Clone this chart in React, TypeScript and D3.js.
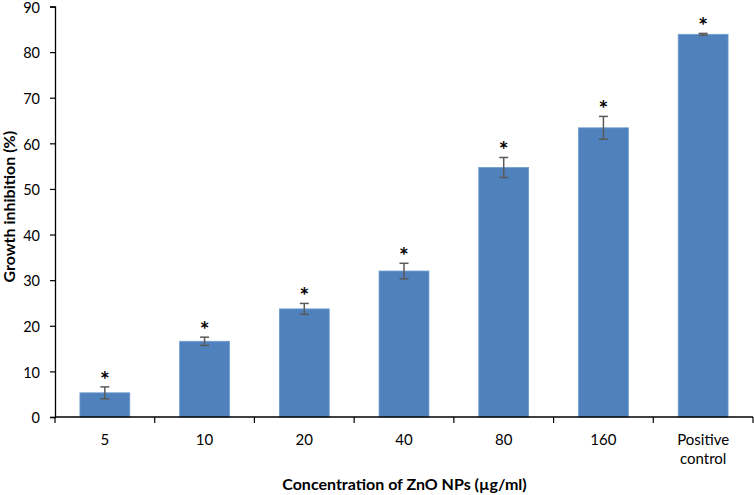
import React, { useEffect, useRef } from "react";
import * as d3 from "d3";

const categories = ["5", "10", "20", "40", "80", "160", "Positive control"];
const values = [5.3, 16.6, 23.7, 32.0, 54.7, 63.4, 83.9];
const errors = [1.3, 0.9, 1.2, 1.7, 2.2, 2.5, 0.2];
const yTicks = [0, 10, 20, 30, 40, 50, 60, 70, 80, 90];

const W = 754;
const H = 495;
const margin = { left: 55, right: 0, top: 6.5, bottom: 78 };

export default function App() {
  const ref = useRef<SVGSVGElement | null>(null);

  useEffect(() => {
    const svg = d3.select(ref.current);
    svg.selectAll("*").remove();
    const font = "Lato, 'Open Sans', sans-serif";

    const x = d3
      .scaleBand<string>()
      .domain(categories)
      .range([margin.left, W - margin.right - 1])
      .paddingInner(0.5)
      .paddingOuter(0.25);
    const y = d3
      .scaleLinear()
      .domain([0, 90])
      .range([H - margin.bottom, margin.top]);

    // bars
    svg
      .append("g")
      .selectAll("rect")
      .data(values)
      .join("rect")
      .attr("x", (_, i) => x(categories[i])!)
      .attr("width", x.bandwidth())
      .attr("y", (d) => y(d))
      .attr("height", (d) => y(0) - y(d))
      .attr("fill", "#4F81BD")
      .attr("stroke", "#6f9bd0")
      .attr("stroke-width", 0.8);

    // error bars
    const eg = svg.append("g").attr("stroke", "#5a5a5a").attr("stroke-width", 1.5);
    values.forEach((v, i) => {
      const cx = x(categories[i])! + x.bandwidth() / 2;
      const top = y(v + errors[i]);
      const bot = y(v - errors[i]);
      eg.append("line").attr("x1", cx).attr("x2", cx).attr("y1", top).attr("y2", bot);
      eg.append("line").attr("x1", cx - 4.5).attr("x2", cx + 4.5).attr("y1", top).attr("y2", top);
      eg.append("line").attr("x1", cx - 4.5).attr("x2", cx + 4.5).attr("y1", bot).attr("y2", bot);
    });

    // asterisks
    svg
      .append("g")
      .selectAll("text")
      .data(values)
      .join("text")
      .attr("x", (_, i) => x(categories[i])! + x.bandwidth() / 2)
      .attr("y", (d, i) => y(d + errors[i]) + 1)
      .attr("text-anchor", "middle")
      .attr("font-family", font)
      .attr("font-weight", "bold")
      .attr("font-size", 23)
      .attr("fill", "#000")
      .text("*");

    // y axis
    const yAxis = svg
      .append("g")
      .attr("transform", `translate(${margin.left},0)`)
      .call(
        d3
          .axisLeft(y)
          .tickValues(yTicks)
          .tickSize(5)
          .tickPadding(10)
          .tickFormat(d3.format("d"))
      );
    yAxis.select(".domain").attr("stroke", "#000").attr("stroke-width", 1.3);
    yAxis.selectAll(".tick line").attr("stroke", "#000").attr("stroke-width", 1.2);
    yAxis
      .selectAll(".tick text")
      .attr("font-family", font)
      .attr("font-size", 14.5)
      .attr("dy", "0.4em")
      .attr("fill", "#000");

    // x axis
    const step = x.step();
    const boundaries = d3.range(categories.length + 1).map((i) => margin.left + i * step);
    const xg = svg.append("g");
    xg.append("line")
      .attr("x1", margin.left)
      .attr("x2", W - 1)
      .attr("y1", y(0))
      .attr("y2", y(0))
      .attr("stroke", "#000")
      .attr("stroke-width", 1.3);
    xg.selectAll("line.tk")
      .data(boundaries)
      .join("line")
      .attr("class", "tk")
      .attr("x1", (d) => d)
      .attr("x2", (d) => d)
      .attr("y1", y(0))
      .attr("y2", y(0) + 6)
      .attr("stroke", "#000")
      .attr("stroke-width", 1.2);

    categories.forEach((c) => {
      const cx = x(c)! + x.bandwidth() / 2;
      const words = c === "Positive control" ? ["Positive", "control"] : [c];
      const t = xg
        .append("text")
        .attr("x", cx)
        .attr("y", y(0) + 28)
        .attr("text-anchor", "middle")
        .attr("font-family", font)
        .attr("font-size", 15)
        .attr("fill", "#000");
      words.forEach((w, k) => {
        t.append("tspan").attr("x", cx).attr("dy", k === 0 ? 0 : 19).text(w);
      });
    });

    // axis titles
    svg
      .append("text")
      .attr("x", (margin.left + W) / 2)
      .attr("y", 490)
      .attr("text-anchor", "middle")
      .attr("font-family", font)
      .attr("font-weight", "bold")
      .attr("font-size", 16)
      .attr("fill", "#000")
      .text("Concentration of ZnO NPs (µg/ml)");

    svg
      .append("text")
      .attr("transform", `translate(15, ${(y(0) + y(90)) / 2 - 5}) rotate(-90)`)
      .attr("text-anchor", "middle")
      .attr("font-family", font)
      .attr("font-weight", "bold")
      .attr("font-size", 16)
      .attr("fill", "#000")
      .text("Growth inhibition (%)");
  }, []);

  return (
    <svg
      ref={ref}
      width={W}
      height={H}
      style={{ position: "absolute", left: 0, top: 0, background: "#fff" }}
    />
  );
}
